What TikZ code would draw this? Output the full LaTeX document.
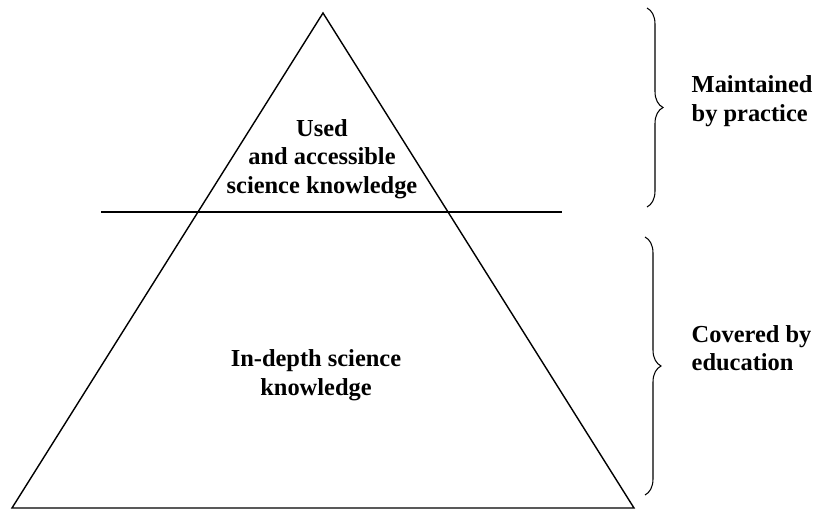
\documentclass[tikz,border=0pt]{standalone}
\usepackage{fontspec}
\setmainfont{Liberation Serif}
\usetikzlibrary{decorations.pathreplacing}
\tikzset{
  layer text/.style={font=\bfseries\fontsize{13.9pt}{16.2pt}\selectfont, align=center, inner sep=0pt},
  side text/.style={layer text, align=left, anchor=west},
  side brace/.style={decorate, decoration={brace, amplitude=0.32cm}, line width=0.6pt},
}
\begin{document}
\begin{tikzpicture}[x=0.2cm, y=0.2cm, line width=0.8pt]
    \useasboundingbox (0,0) rectangle (81.6,51);
    \coordinate (apex) at (32.3,49.7);
    \coordinate (baseL) at (1.2,0.2);
    \coordinate (baseR) at (63.4,0.2);
    \draw (baseL) -- (apex) -- (baseR) -- cycle;
    \coordinate (cutL) at (10.1,29.8);
    \coordinate (cutR) at (56.2,29.8);
    \draw (cutL) -- (cutR);
    \node[layer text] (used) at (32.2,35.1) {Used\\and accessible\\science knowledge};
    \node[layer text] (depth) at (31.6,13.5) {In-depth science\\knowledge};
    \coordinate (upTop) at (64.7,50.2);
    \coordinate (upBot) at (64.7,30.3);
    \coordinate (lowTop) at (64.5,27.3);
    \coordinate (lowBot) at (64.5,1.5);
    \draw[side brace] (upTop) -- (upBot);
    \draw[side brace] (lowTop) -- (lowBot);
    \node[side text] (practice) at (69.1,40.9) {Maintained\\by practice};
    \node[side text] (education) at (69.1,16.2) {Covered by\\education};
\end{tikzpicture}
\end{document}
